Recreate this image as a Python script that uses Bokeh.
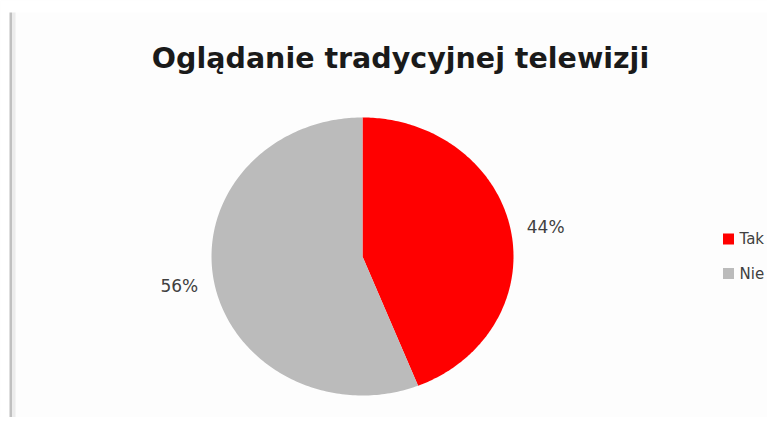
import numpy as np
from bokeh.plotting import figure
from bokeh.models import Range1d
from bokeh.core.properties import value
from bokeh.embed import file_html
from bokeh.resources import INLINE

# ---- data ----
title_text = "Oglądanie tradycyjnej telewizji"
categories = ["Tak", "Nie"]
values = [44, 56]
colors = ["#FF0000", "#BBBBBB"]

# ---- layout (figure pixel coordinates, y downward) ----
W, H = 767, 417
cx, cy = 362, 256
rx, ry = 151, 139
label_fx, label_fy = 1.235, 1.12

p = figure(width=W, height=H, output_backend="svg", toolbar_location=None,
           x_range=Range1d(0, W), y_range=Range1d(H, 0), min_border=0)
p.axis.visible = False
p.grid.visible = False
p.outline_line_color = None
p.background_fill_color = "#FDFDFD"
p.border_fill_color = "#FFFFFF"

# chart frame left edge
p.quad(left=[0], right=[9], top=[0], bottom=[H], fill_color="#FFFFFF", line_color=None)
p.quad(left=[0], right=[W], top=[0], bottom=[12], fill_color="#FFFFFF", line_color=None)
p.quad(left=[9], right=[11.5], top=[12], bottom=[H], fill_color="#C0C0C0", line_color=None)
p.quad(left=[11.5], right=[15], top=[12], bottom=[H], fill_color="#ECECEC", line_color=None)

# pie slices (clockwise from top)
total = float(sum(values))
fr = np.cumsum([0] + values) / total * 2 * np.pi
xs, ys = [], []
for i in range(len(values)):
    t = np.linspace(fr[i], fr[i + 1], 200)
    xs.append(list(np.r_[cx, cx + rx * np.sin(t)]))
    ys.append(list(np.r_[cy, cy - ry * np.cos(t)]))
p.patches(xs, ys, fill_color=colors, line_color=None)

# percentage labels
mids = (fr[:-1] + fr[1:]) / 2
lx = cx + label_fx * rx * np.sin(mids)
ly = cy - label_fy * ry * np.cos(mids)
labels = [f"{round(v / total * 100)}%" for v in values]
p.text(x=lx, y=ly, text=labels, text_align="center", text_baseline="middle",
       text_font=value("DejaVu Sans"), text_font_size="17px", text_color="#404040")

# title
p.text(x=[400], y=[58], text=[title_text], text_align="center", text_baseline="alphabetic",
       text_font=value("DejaVu Sans"), text_font_style="bold", text_font_size="28.5px",
       text_color="#1A1A1A")

# legend
leg_y = [238.5 + 34.5 * i for i in range(len(categories))]
p.scatter(x=[728] * len(categories), y=leg_y, marker="square", size=11,
          fill_color=colors, line_color=None)
p.text(x=[739] * len(categories), y=leg_y, text=categories, text_align="left",
       text_baseline="middle", text_font=value("DejaVu Sans"), text_font_size="15px",
       text_color="#404040")

open("out.html", "w").write(file_html(p, INLINE))
